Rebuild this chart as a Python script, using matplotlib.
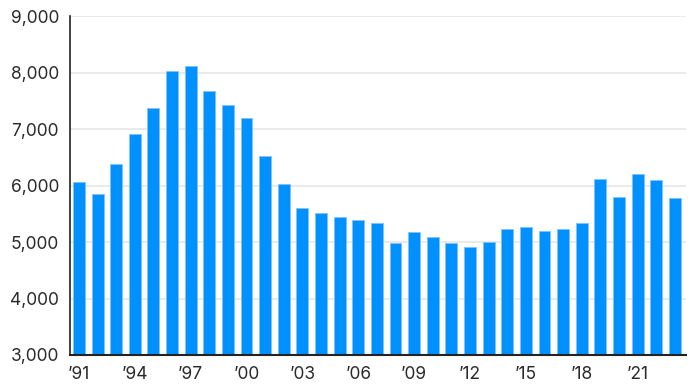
import matplotlib.pyplot as plt
import numpy as np

# yearly counts, 1991-2023
years = list(range(1991, 2024))
values = [6070, 5850, 6380, 6910, 7365, 8025, 8115, 7680, 7420, 7190,
          6530, 6020, 5600, 5510, 5435, 5395, 5340, 4980, 5170, 5085,
          4980, 4905, 4995, 5230, 5265, 5195, 5230, 5340, 6110, 5800,
          6200, 6095, 5780]
tick_years = [1991, 1994, 1997, 2000, 2003, 2006, 2009, 2012, 2015, 2018, 2021]
yticks = [3000, 4000, 5000, 6000, 7000, 8000, 9000]

plt.rcParams['font.family'] = ['Inter', 'DejaVu Sans']

fig = plt.figure(figsize=(6.92, 3.87), dpi=100)
ax = fig.add_axes([70 / 692, 32 / 387, 616 / 692, 339 / 387])

x = np.arange(len(years))
ax.bar(x, values, width=0.64, color='#0091FF', edgecolor='#7cc3ff',
       linewidth=0.6, zorder=3)

ax.set_ylim(3000, 9000)
ax.set_xlim(-0.48, len(years) - 0.4)
ax.set_yticks(yticks)
ax.set_yticklabels([f'{v:,}' for v in yticks])
ax.set_xticks([years.index(y) for y in tick_years])
ax.set_xticklabels(["\u2019" + str(y)[2:] for y in tick_years])

ax.grid(axis='y', color='#e6e6e6', linewidth=1.2, zorder=0)
ax.tick_params(axis='both', length=0, labelsize=12.5, colors='#2a2a2a')
ax.tick_params(axis='x', pad=8)
ax.tick_params(axis='y', pad=8)

for side in ['top', 'right']:
    ax.spines[side].set_visible(False)
ax.spines['left'].set_color('#222222')
ax.spines['bottom'].set_color('#222222')
ax.spines['left'].set_linewidth(1.2)
ax.spines['bottom'].set_linewidth(1.5)
ax.spines['left'].set_zorder(4)
ax.spines['bottom'].set_zorder(4)

fig.savefig('out.png', dpi=100)
